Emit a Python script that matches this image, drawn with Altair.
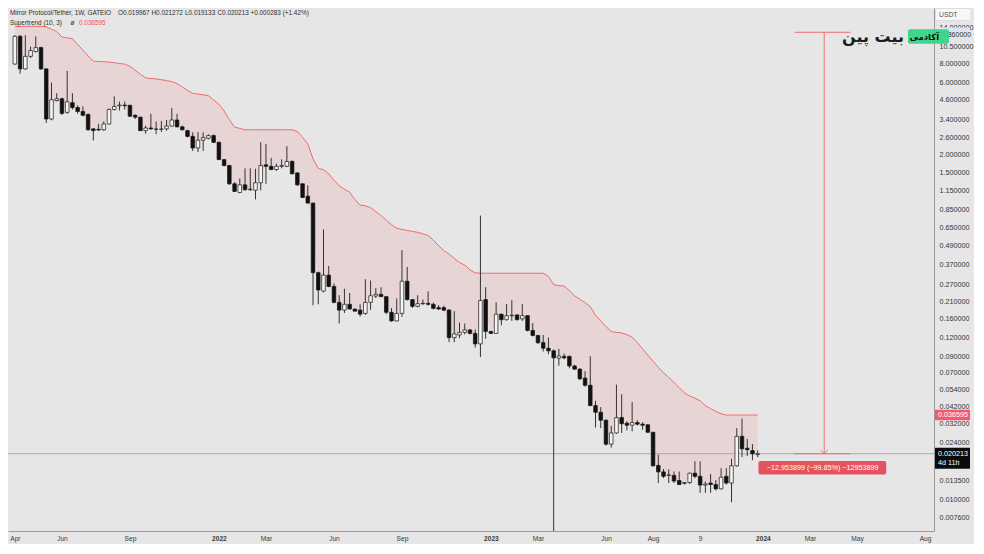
import altair as alt
import pandas as pd

# ---------------- data (weekly candles, 2021-04-05 ... 2023-12-25) ----------------
first_week = "2021-04-05"

opens = [
    7.97, 12.2, 7.40, 8.97, 9.66, 10.26, 7.40, 3.43, 4.55, 4.68,
    3.80, 4.41, 4.09, 3.85, 3.68, 2.95, 2.93, 2.91, 3.18, 3.97,
    4.20, 4.25, 4.23, 3.63, 3.53, 2.87, 2.99, 2.94, 2.93, 2.95,
    3.08, 3.38, 3.04, 2.87, 2.63, 2.20, 2.48, 2.55, 2.66, 2.40,
    1.84, 1.68, 1.27, 1.11, 1.25, 1.16, 1.15, 1.29, 1.70, 1.66,
    1.58, 1.66, 1.66, 1.79, 1.50, 1.27, 1.05, 0.945, 0.325, 0.245,
    0.313, 0.263, 0.206, 0.183, 0.200, 0.186, 0.183, 0.174, 0.206, 0.227,
    0.233, 0.225, 0.177, 0.155, 0.174, 0.285, 0.215, 0.194, 0.202, 0.203,
    0.200, 0.190, 0.190, 0.183, 0.120, 0.125, 0.130, 0.135, 0.128, 0.109,
    0.215, 0.132, 0.128, 0.172, 0.158, 0.168, 0.170, 0.160, 0.168, 0.134,
    0.124, 0.111, 0.102, 0.098, 0.0875, 0.090, 0.090, 0.0777, 0.074, 0.0645,
    0.0578, 0.0423, 0.0382, 0.0338, 0.0234, 0.0278, 0.0352, 0.0323, 0.0313, 0.0326,
    0.0318, 0.0315, 0.0281, 0.0169, 0.0153, 0.0145, 0.0145, 0.0134, 0.0128, 0.0130,
    0.0150, 0.0143, 0.0125, 0.0129, 0.0126, 0.0118, 0.0143, 0.0129, 0.0168, 0.0264,
    0.0220, 0.0212, 0.019967,
]
highs = [
    12.43, 12.43, 12.43, 10.41, 12.2, 10.4, 7.45, 6.01, 5.10, 4.76,
    7.18, 5.10, 4.23, 4.16, 3.74, 2.97, 3.18, 3.31, 4.03, 4.86,
    4.48, 4.48, 4.28, 3.69, 3.55, 3.10, 3.72, 3.31, 3.33, 3.38,
    4.07, 3.72, 3.10, 2.91, 2.80, 2.80, 2.80, 2.71, 2.71, 2.42,
    1.86, 1.70, 1.30, 1.38, 1.61, 1.61, 1.60, 2.40, 2.34, 1.89,
    1.73, 1.85, 2.26, 1.82, 1.52, 1.28, 1.24, 0.95, 0.33, 0.63,
    0.36, 0.275, 0.23, 0.254, 0.238, 0.187, 0.20, 0.294, 0.288, 0.257,
    0.260, 0.226, 0.189, 0.219, 0.460, 0.355, 0.216, 0.230, 0.215, 0.244,
    0.205, 0.198, 0.196, 0.186, 0.180, 0.151, 0.149, 0.137, 0.136, 0.78,
    0.26, 0.133, 0.206, 0.173, 0.201, 0.213, 0.171, 0.201, 0.169, 0.150,
    0.125, 0.125, 0.120, 0.100, 0.101, 0.094, 0.091, 0.079, 0.075, 0.0718,
    0.0902, 0.0455, 0.0413, 0.0342, 0.0310, 0.0584, 0.0503, 0.0332, 0.0446, 0.0338,
    0.0328, 0.0318, 0.0282, 0.0199, 0.0160, 0.0159, 0.0154, 0.0154, 0.0131, 0.0151,
    0.0180, 0.0180, 0.0132, 0.0148, 0.0135, 0.0162, 0.0162, 0.0187, 0.0299, 0.0347,
    0.0254, 0.0234, 0.021272,
]
lows = [
    7.90, 6.87, 7.30, 8.75, 9.50, 7.29, 3.23, 3.36, 4.50, 3.65,
    3.72, 3.97, 3.72, 3.58, 2.87, 2.47, 2.86, 2.86, 3.15, 3.91,
    3.91, 3.97, 3.53, 3.43, 2.86, 2.74, 2.91, 2.72, 2.82, 2.87,
    3.05, 3.02, 2.87, 2.58, 2.10, 2.07, 2.10, 2.51, 2.37, 1.83,
    1.66, 1.25, 1.12, 1.10, 1.14, 1.14, 1.00, 1.15, 1.27, 1.57,
    1.55, 1.61, 1.64, 1.47, 1.23, 1.02, 0.94, 0.197, 0.200, 0.240,
    0.260, 0.203, 0.149, 0.175, 0.185, 0.180, 0.166, 0.170, 0.184, 0.220,
    0.223, 0.172, 0.153, 0.154, 0.165, 0.212, 0.189, 0.191, 0.198, 0.196,
    0.185, 0.184, 0.180, 0.112, 0.112, 0.119, 0.126, 0.126, 0.103, 0.089,
    0.118, 0.127, 0.127, 0.145, 0.156, 0.155, 0.156, 0.155, 0.132, 0.122,
    0.109, 0.097, 0.093, 0.003, 0.078, 0.086, 0.075, 0.073, 0.0625, 0.0565,
    0.042, 0.0302, 0.0299, 0.0229, 0.0222, 0.0275, 0.0278, 0.0289, 0.0285, 0.0312,
    0.0292, 0.0278, 0.0166, 0.0129, 0.0139, 0.0129, 0.0129, 0.0126, 0.0126, 0.0127,
    0.0139, 0.0111, 0.0111, 0.0111, 0.0115, 0.0117, 0.0126, 0.0096, 0.0166, 0.0192,
    0.0195, 0.0183, 0.019133,
]
closes = [
    12.2, 7.40, 8.97, 9.80, 10.25, 7.40, 3.43, 4.61, 4.68, 3.74,
    4.47, 4.09, 3.85, 3.63, 2.91, 2.87, 2.90, 3.18, 3.97, 4.16,
    4.25, 4.21, 3.58, 3.53, 2.87, 2.99, 2.95, 2.93, 2.94, 3.08,
    3.38, 3.04, 2.91, 2.63, 2.20, 2.48, 2.58, 2.66, 2.40, 1.84,
    1.68, 1.27, 1.13, 1.25, 1.16, 1.17, 1.29, 1.68, 1.66, 1.58,
    1.66, 1.68, 1.79, 1.48, 1.25, 1.03, 0.945, 0.325, 0.249, 0.313,
    0.263, 0.206, 0.183, 0.200, 0.186, 0.180, 0.172, 0.206, 0.228, 0.233,
    0.225, 0.177, 0.155, 0.174, 0.285, 0.215, 0.194, 0.202, 0.203, 0.200,
    0.188, 0.186, 0.183, 0.120, 0.127, 0.130, 0.135, 0.128, 0.109, 0.212,
    0.132, 0.128, 0.172, 0.158, 0.168, 0.169, 0.158, 0.168, 0.134, 0.124,
    0.111, 0.102, 0.098, 0.088, 0.0905, 0.088, 0.0777, 0.074, 0.0638, 0.0578,
    0.0423, 0.0382, 0.0338, 0.0234, 0.0278, 0.0352, 0.0320, 0.0313, 0.0326, 0.0318,
    0.0313, 0.0281, 0.0168, 0.0153, 0.0143, 0.0146, 0.0133, 0.0126, 0.0130, 0.0150,
    0.0143, 0.0125, 0.0127, 0.0126, 0.0118, 0.0141, 0.0129, 0.0168, 0.0264, 0.0218,
    0.0215, 0.0202, 0.020213,
]
supertrend = [
    14.2, 14.2, 14.2, 14.2, 14.2, 14.2, 14.1, 13.6, 13.15, 12.07,
    11.9, 11.77, 10.77, 9.88, 9.04, 8.33, 8.29, 8.26, 8.21, 8.14,
    8.03, 7.97, 7.69, 7.24, 6.82, 6.45, 6.38, 6.34, 6.27, 6.18,
    6.09, 5.91, 5.61, 5.32, 5.08, 5.03, 4.97, 4.91, 4.60, 4.30,
    3.88, 3.40, 3.03, 2.97, 2.91, 2.91, 2.91, 2.91, 2.91, 2.91,
    2.91, 2.91, 2.91, 2.91, 2.83, 2.59, 2.35, 1.86, 1.61, 1.575,
    1.48, 1.34, 1.235, 1.17, 1.117, 0.998, 0.916, 0.907, 0.881, 0.829,
    0.779, 0.727, 0.678, 0.642, 0.631, 0.621, 0.612, 0.603, 0.589, 0.575,
    0.536, 0.492, 0.456, 0.432, 0.404, 0.380, 0.365, 0.339, 0.324, 0.322,
    0.322, 0.322, 0.322, 0.322, 0.322, 0.322, 0.322, 0.322, 0.322, 0.322,
    0.322, 0.322, 0.307, 0.270, 0.2667, 0.265, 0.247, 0.228, 0.2155, 0.2055,
    0.1927, 0.169, 0.155, 0.142, 0.132, 0.130, 0.129, 0.1255, 0.121, 0.111,
    0.101, 0.0918, 0.0836, 0.0760, 0.0700, 0.0651, 0.0603, 0.0557, 0.0514, 0.0490,
    0.0474, 0.0455, 0.0423, 0.0404, 0.0387, 0.0373, 0.036595, 0.036595, 0.036595, 0.036595,
    0.036595, 0.036595, 0.036595,
]

price_ticks = [14.0, 10.5, 8.0, 6.0, 4.6, 3.4, 2.6, 2.0, 1.5, 1.15, 0.85, 0.65, 0.49,
               0.37, 0.27, 0.21, 0.16, 0.12, 0.09, 0.07, 0.054, 0.042, 0.032, 0.024,
               0.0135, 0.010, 0.0076]
time_tick_dates = ["2021-04-05", "2021-06-07", "2021-09-06", "2022-01-03", "2022-03-07",
                   "2022-06-06", "2022-09-05", "2023-01-02", "2023-03-06", "2023-06-05",
                   "2023-08-07", "2023-10-09", "2024-01-01", "2024-03-04", "2024-05-06",
                   "2024-08-05"]
time_tick_labels = ["Apr", "Jun", "Sep", "2022", "Mar", "Jun", "Sep", "2023", "Mar", "Jun",
                    "Aug", "9", "2024", "Mar", "May", "Aug"]

last_close = 0.020213
st_last = 0.036595
measure_top = 12.974112
hover_price = 12.86

# ---------------- layout ----------------
W, H = 926, 523
FONT = "Liberation Sans"
BG = "#e6e6e6"


def ms(s):
    return int(pd.Timestamp(s, tz="UTC").value // 10**6)


dates = pd.date_range(first_week, periods=len(opens), freq="7D", tz="UTC")
df = pd.DataFrame({
    "t": dates.asi8 // 10**6,
    "open": opens, "high": highs, "low": lows, "close": closes, "st": supertrend,
})
df["mid"] = (df["open"] + df["close"]) / 2

x_scale = alt.Scale(type="utc", domain=[ms("2021-04-02 12:00"), ms("2024-08-10 06:00")], nice=False)
y_scale = alt.Scale(type="log", domain=[0.00618, 18.83], nice=False)

expr = "''"
for d, lab in reversed(list(zip(time_tick_dates, time_tick_labels))):
    expr = f"utcFormat(datum.value, '%Y-%m-%d') == '{d}' ? '{lab}' : ({expr})"

x_axis = alt.Axis(
    values=[ms(d) for d in time_tick_dates], labelExpr=expr, title=None, grid=False,
    ticks=False, tickSize=0, domain=True, domainColor="#9a9a9a", domainWidth=1,
    labelFont=FONT, labelFontSize=6.6, labelColor="#3a3a3a", labelPadding=4,
    labelFlush=False, labelOverlap=False,
    labelFontWeight={"condition": {"test": "utcFormat(datum.value, '%m') == '01'", "value": "bold"},
                     "value": "normal"},
)
y_axis = alt.Axis(
    values=price_ticks, format=".6f", title=None, grid=False, orient="right",
    ticks=False, tickSize=0, domain=True, domainColor="#9a9a9a", domainWidth=1,
    labelFont=FONT, labelFontSize=7.2, labelColor="#333333", labelPadding=5,
    labelAlign="left", labelFlush=False, labelOverlap=False,
)


def X(f):
    return alt.X(f, scale=x_scale, axis=x_axis)


def Y(f):
    return alt.Y(f, scale=y_scale, axis=y_axis)


base = alt.Chart(df)

area = base.mark_area(color="#f23645", opacity=0.1).encode(
    x=X("t:T"), y=Y("st:Q"), y2="mid:Q")
st_line = base.mark_line(color="#f26b6b", strokeWidth=1).encode(x=X("t:T"), y=Y("st:Q"))

one = pd.DataFrame({"p": [last_close]})
price_line = alt.Chart(one).mark_rule(color="#9c9c9c", strokeWidth=0.8).encode(y=Y("p:Q"))

# price range (measure) drawing
meas_v = pd.DataFrame({"t": [ms("2024-03-23")], "p1": [measure_top], "p2": [last_close]})
meas_h = pd.DataFrame({"t1": [ms("2024-02-12")] * 2, "t2": [ms("2024-04-27")] * 2,
                       "p": [measure_top, last_close]})
mcol = "#f07070"
m_vert = alt.Chart(meas_v).mark_rule(color=mcol, strokeWidth=1).encode(
    x=X("t:T"), y=Y("p1:Q"), y2="p2:Q")
m_horz = alt.Chart(meas_h).mark_rule(color=mcol, strokeWidth=1).encode(
    x=X("t1:T"), x2="t2:T", y=Y("p:Q"))
m_arrow = alt.Chart(meas_v).mark_point(shape="M-1,-1L0,0L1,-1", filled=False, size=49,
                                       color=mcol, strokeWidth=1, opacity=1).encode(
    x=X("t:T"), y=Y("p2:Q"))

box = pd.DataFrame({"t1": [ms("2023-12-26")], "t2": [ms("2024-06-14")],
                    "p1": [0.0181], "p2": [0.0147], "tc": [ms("2024-03-21")], "pc": [0.0163]})
m_box = alt.Chart(box).mark_rect(color="#e3545f", cornerRadius=2).encode(
    x=X("t1:T"), x2="t2:T", y=Y("p1:Q"), y2="p2:Q")
m_text = alt.Chart(box).mark_text(text="\u221212.953899 (\u221299.85%) \u221212953899",
                                  color="white", font=FONT, fontSize=7.2,
                                  baseline="middle", align="center").encode(
    x=X("tc:T"), y=Y("pc:Q"))

# candles
wicks = base.mark_rule(color="#333333", strokeWidth=1, clip=True).encode(
    x=X("t:T"), y=Y("low:Q"), y2="high:Q")
bodies = base.mark_bar(size=3.6, stroke="#161616", strokeWidth=0.7).encode(
    x=X("t:T"), y=Y("open:Q"), y2="close:Q",
    fill=alt.condition("datum.close >= datum.open", alt.value("#f5f5f5"), alt.value("#111111")))

# price-scale badges
dot = pd.DataFrame({"a": [0]})
st_df = pd.DataFrame({"p": [st_last]})
hv_df = pd.DataFrame({"p": [hover_price]})
badge_red = alt.Chart(st_df).mark_point(shape="M-1,-0.3H1V0.3H-1Z", filled=True, size=1225,
                                        color="#f45b69", opacity=1, strokeWidth=0).encode(
    x=alt.value(W + 18.5), y=Y("p:Q"))
badge_red_t = alt.Chart(st_df).mark_text(text="0.036595", color="white", font=FONT, fontSize=7.2,
                                         align="left", baseline="middle").encode(
    x=alt.value(W + 4), y=Y("p:Q"))
badge_blk = alt.Chart(one).mark_point(shape="M-1,-0.34H1V0.86H-1Z", filled=True, size=1225,
                                      color="#0b0b0b", opacity=1, strokeWidth=0).encode(
    x=alt.value(W + 18.5), y=Y("p:Q"))
badge_blk_t1 = alt.Chart(one).mark_text(text="0.020213", color="white", font=FONT, fontSize=7.2,
                                        align="left", baseline="middle").encode(
    x=alt.value(W + 4), y=Y("p:Q"))
badge_blk_t2 = alt.Chart(one).mark_text(text="4d 11h", color="white", font=FONT, fontSize=7.2,
                                        align="left", baseline="middle", dy=9).encode(
    x=alt.value(W + 4), y=Y("p:Q"))
badge_hv = alt.Chart(hv_df).mark_point(shape="M-1,-0.3H1V0.3H-1Z", filled=True, size=1225,
                                       color="#dce6f4", opacity=1, strokeWidth=0).encode(
    x=alt.value(W + 18.5), y=Y("p:Q"))
badge_hv_t = alt.Chart(hv_df).mark_text(text="12.860000", color="#333333", font=FONT, fontSize=7.0,
                                        align="left", baseline="middle", dy=2).encode(
    x=alt.value(W + 4), y=Y("p:Q"))

usdt_box = alt.Chart(dot).mark_rect(color="#f7f7f7", stroke="#cfcfcf", strokeWidth=0.6,
                                    cornerRadius=2).encode(
    x=alt.value(W + 1.5), x2=alt.value(W + 37), y=alt.value(0.5), y2=alt.value(12.5))
usdt_txt = alt.Chart(dot).mark_text(text="USDT", color="#555555", font=FONT, fontSize=6.8,
                                    align="left", baseline="middle").encode(
    x=alt.value(W + 5), y=alt.value(6.5))

# legend (header)
HF = 6.4
head1 = [("Mirror Protocol/Tether, 1W, GATEIO", 2), ("O0.019967", 110), ("H0.021272", 143.5),
         ("L0.019133", 177), ("C0.020213", 209.5), ("+0.000283 (+1.42%)", 242.5)]
headers = []
for txt, xp in head1:
    headers.append(alt.Chart(dot).mark_text(text=txt, color="#2e2e2e", font=FONT, fontSize=HF,
                                            align="left", baseline="middle").encode(
        x=alt.value(xp), y=alt.value(5.3)))
headers.append(alt.Chart(dot).mark_text(text="Supertrend (10, 3)", color="#2e2e2e", font=FONT,
                                        fontSize=HF, align="left", baseline="middle").encode(
    x=alt.value(2), y=alt.value(15)))
headers.append(alt.Chart(dot).mark_text(text="\u00f8", color="#2e2e2e", font=FONT,
                                        fontSize=HF, align="left", baseline="middle").encode(
    x=alt.value(62.5), y=alt.value(15)))
headers.append(alt.Chart(dot).mark_text(text="0.036595", color="#f0505a", font=FONT,
                                        fontSize=HF, align="left", baseline="middle").encode(
    x=alt.value(71), y=alt.value(15)))

# watermark logo
logo_txt = alt.Chart(dot).mark_text(text="بیت پین", color="#1c1c1c", font="DejaVu Sans",
                                    fontSize=16, fontWeight="bold", align="right",
                                    baseline="middle").encode(
    x=alt.value(896), y=alt.value(28.5))
logo_box = alt.Chart(dot).mark_rect(color="#3ed68a", cornerRadius=2).encode(
    x=alt.value(900), x2=alt.value(941), y=alt.value(21.3), y2=alt.value(35.8))
logo_box_t = alt.Chart(dot).mark_text(text="آکادمی", color="#111111", font="DejaVu Sans",
                                      fontSize=8.5, fontWeight="bold", align="center",
                                      baseline="middle").encode(
    x=alt.value(916.5), y=alt.value(28.8))

chart = alt.layer(
    area, st_line, price_line, m_horz, m_vert, m_arrow, wicks, bodies, m_box, m_text,
    badge_hv, badge_hv_t, badge_red, badge_red_t, badge_blk, badge_blk_t1, badge_blk_t2,
    usdt_box, usdt_txt, *headers, logo_txt, logo_box, logo_box_t,
).properties(
    width=W, height=H,
    autosize=alt.AutoSizeParams(type="none"),
    padding={"left": 0, "top": 0, "right": 40, "bottom": 13},
    background=BG,
).configure_view(stroke=None, fill=BG)

chart.save("out.html", embed_options={"renderer": "svg", "actions": False})
